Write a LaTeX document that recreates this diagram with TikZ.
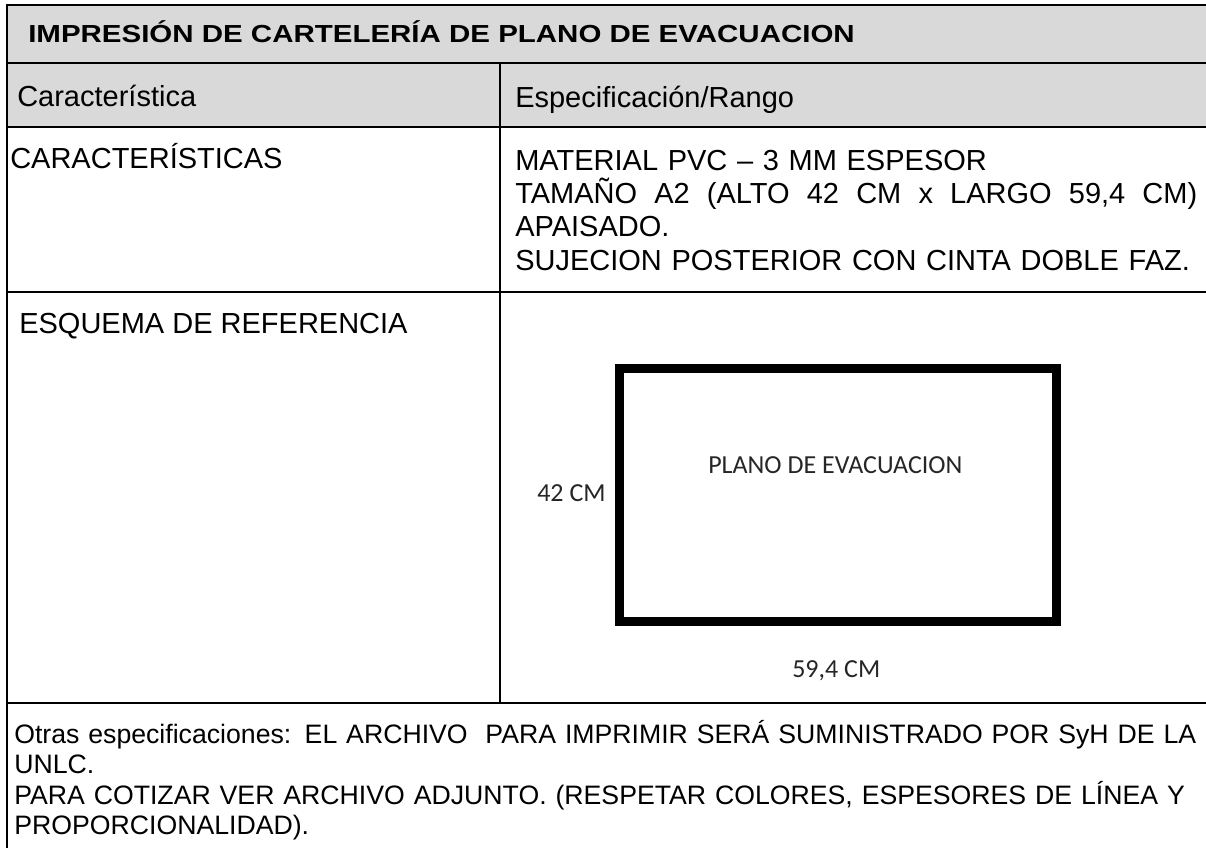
\documentclass[tikz,border=0pt]{standalone}
\usepackage{fontspec}
\setmainfont{Liberation Sans}
\newfontfamily\sketchfont{Carlito}
\usepackage{graphicx}
\usetikzlibrary{positioning}
\definecolor{headgray}{HTML}{D9D9D9}
\definecolor{inkgray}{HTML}{262626}
\tikzset{rule/.style={ % Table lines
            line width=2pt,
            black},
        divider/.style={line width=1.5pt, black},
        cell/.style={ % Text in the upper cells
            inner sep=0pt,
            anchor=base west,
            font=\fontsize{21.75pt}{25pt}\selectfont},
        note/.style={ % Text in the last row
            inner sep=0pt,
            anchor=base west,
            text width=890pt,
            align=left,
            font=\fontsize{20pt}{22.9pt}\selectfont},
        dim/.style={ % Labels of the sketch
            inner sep=0pt,
            anchor=base west,
            text=inkgray,
            font=\sketchfont\fontsize{19.5pt}{22pt}\selectfont},
        sheet/.style={ % Outline of the poster
            draw,
            line width=6.75pt,
            minimum width=327.75pt,
            minimum height=189.75pt,
            inner sep=0pt}
        }

\begin{document}
\begin{tikzpicture}[x=0.75pt, y=-0.75pt]
    \useasboundingbox (0,0) rectangle (1206,847);

    % grey head rows
    \fill[headgray] (7,5) rectangle (1215,127);
    \draw[rule] (7,5) -- (1215,5);
    \foreach \y in {63,127,292,703}
        \draw[rule] (7,\y) -- (1215,\y);
    \draw[rule] (7,3.5) -- (7,855);
    \draw[divider] (500,63) -- (500,703);

    \node[cell, font=\bfseries\fontsize{18.5pt}{20pt}\selectfont] (title) at (28,42)
        {\scalebox{1.195}[1]{IMPRESIÓN DE CARTELERÍA DE PLANO DE EVACUACION}};
    \node[cell] (hchar) at (17,106) {Característica};
    \node[cell] (hspec) at (515,107) {Especificación/Rango};
    \node[cell] (char) at (10,168) {CARACTERÍSTICAS};
    \node[cell, text width=511.5pt, align=left] (spec) at (515,170)
        {MATERIAL PVC – 3 MM ESPESOR\\
         \makebox[\linewidth][s]{TAMAÑO\hfill A2\hfill (ALTO\hfill 42\hfill CM\hfill x\hfill LARGO\hfill 59,4\hfill CM)}\\
         APAISADO.\\
         SUJECION POSTERIOR CON CINTA DOBLE FAZ.};
    \node[cell] (esq) at (19,333) {ESQUEMA DE REFERENCIA};

    % sketch of the poster
    \node[sheet] (plano) at (838,495) {};
    \node[dim] (alto) at (537,501) {42 CM};
    \node[dim] (rotulo) at (708,473) {PLANO DE EVACUACION};
    \node[dim] (largo) at (792,677) {59,4 CM};

    \node[note] (otras) at (14,743)
        {Otras especificaciones: EL ARCHIVO \ PARA IMPRIMIR SERÁ SUMINISTRADO POR SyH DE LA\\
         UNLC.\\
         PARA COTIZAR VER ARCHIVO ADJUNTO. (RESPETAR COLORES, ESPESORES DE LÍNEA Y\\
         PROPORCIONALIDAD).};
\end{tikzpicture}
\end{document}
